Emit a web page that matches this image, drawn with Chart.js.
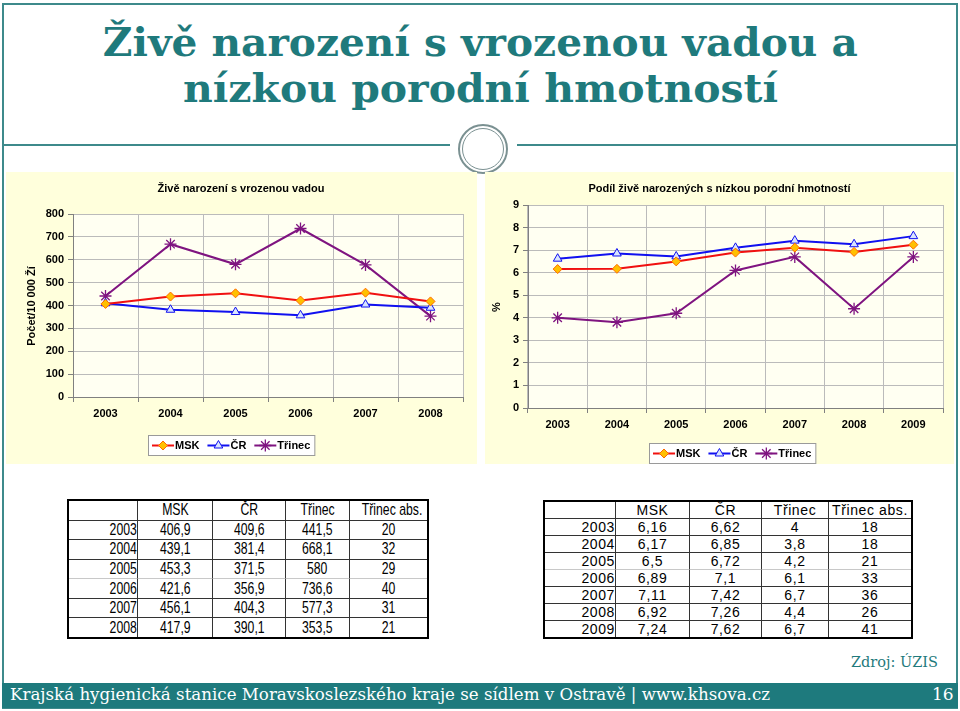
<!DOCTYPE html>
<html><head><meta charset="utf-8">
<script src="https://cdn.jsdelivr.net/npm/chart.js@4.4.1/dist/chart.umd.min.js"></script>
<style>
html,body{margin:0;padding:0;background:#fff;}
body{width:960px;height:711px;position:relative;overflow:hidden;font-family:"Liberation Sans",Arial,sans-serif;}
.frame{position:absolute;left:2px;top:3px;width:956px;height:706px;border:2px solid #3d8a8b;box-sizing:border-box;}
.tline{position:absolute;left:0;width:960px;text-align:center;white-space:nowrap;line-height:1;}
.tline span{display:inline-block;color:#1f7a7c;font-family:"DejaVu Serif",serif;font-weight:bold;font-size:39px;transform-origin:center;}
.rule{position:absolute;top:144px;height:2px;background:#3d8a8b;}
.ring{position:absolute;border-radius:50%;box-sizing:border-box;background:#fff;}
canvas{position:absolute;}
table.tbl{position:absolute;border-collapse:separate;border-spacing:0;border:2px solid #000;table-layout:fixed;box-sizing:border-box;}
table.tbl td{padding:0;margin:0;text-align:center;border-right:1px solid #333;border-bottom:1px solid #333;white-space:nowrap;overflow:visible;color:#000;}
table.tbl td:last-child{border-right:none;}
table.tbl tr:last-child td{border-bottom:none;}
table.tbl td.yr{text-align:right;}
table.tbl tr.light td{border-bottom-color:#c8c8c8;}
#tblVada td{font-family:"Liberation Sans",sans-serif;font-size:17px;line-height:18px;}
#tblVada td span{display:inline-block;transform:scaleX(0.72);transform-origin:center;}
#tblVada td.yr span{transform-origin:right center;}
#tblHmot td{font-family:"Liberation Sans",sans-serif;font-size:14px;letter-spacing:0.6px;}
.footer{position:absolute;left:2px;top:683px;width:956px;height:25px;background:#1e7a7d;}
.ftxt{position:absolute;white-space:nowrap;line-height:1;font-family:"DejaVu Serif",serif;}
.ftxt span{display:inline-block;transform-origin:left center;}
</style>
</head>
<body>
<div class="frame"></div>
<div class="tline" style="top:23px"><span id="t1">Živě narození s vrozenou vadou a</span></div>
<div class="tline" style="top:69px"><span id="t2">nízkou porodní hmotností</span></div>
<div class="rule" style="left:2px;width:448px"></div>
<div class="rule" style="left:517px;width:441px"></div>
<div class="ring" style="left:458px;top:124px;width:50px;height:50px;border:2px solid #7b9192;"></div>
<div class="ring" style="left:462px;top:128px;width:42px;height:42px;border:1.5px solid #7b9192;"></div>

<canvas id="cVada" width="471" height="292" style="left:6px;top:172px;width:471px;height:292px"></canvas>
<canvas id="cHmot" width="469" height="292" style="left:485px;top:172px;width:469px;height:292px"></canvas>

<table class="tbl" id="tblVada" style="left:67px;top:499px;width:358px;height:140px"></table>
<table class="tbl" id="tblHmot" style="left:543px;top:500px;width:366px;height:139px"></table>

<div class="ftxt" style="left:851px;top:655px;font-size:15px;color:#1f7a7c"><span id="zdroj">Zdroj: ÚZIS</span></div>
<div class="footer"></div>
<div class="ftxt" style="left:10px;top:686px;font-size:17px;color:#fff"><span id="foot">Krajská hygienická stanice Moravskoslezského kraje se sídlem v Ostravě | www.khsova.cz</span></div>
<div class="ftxt" style="left:932px;top:686px;font-size:17px;color:#fff"><span id="pg">16</span></div>

<script>
// ---- data ----
const seriesNames = ['MSK', 'ČR', 'Třinec'];
const absHeader = 'Třinec abs.';

const vadaYears = ['2003', '2004', '2005', '2006', '2007', '2008'];
const vadaMSK = [406.9, 439.1, 453.3, 421.6, 456.1, 417.9];
const vadaCR = [409.6, 381.4, 371.5, 356.9, 404.3, 390.1];
const vadaTrinec = [441.5, 668.1, 580, 736.6, 577.3, 353.5];
const vadaTrinecAbs = [20, 32, 29, 40, 31, 21];
const vadaTitle = 'Živě narození s vrozenou vadou';
const vadaAxisTitle = 'Počet/10 000 Ží';
const vadaMax = 800, vadaStep = 100;

const hmotYears = ['2003', '2004', '2005', '2006', '2007', '2008', '2009'];
const hmotMSK = [6.16, 6.17, 6.5, 6.89, 7.11, 6.92, 7.24];
const hmotCR = [6.62, 6.85, 6.72, 7.1, 7.42, 7.26, 7.62];
const hmotTrinec = [4, 3.8, 4.2, 6.1, 6.7, 4.4, 6.7];
const hmotTrinecAbs = [18, 18, 21, 33, 36, 26, 41];
const hmotTitle = 'Podíl živě narozených s nízkou porodní hmotností';
const hmotAxisTitle = '%';
const hmotMax = 9, hmotStep = 1;

// ---- text fitting ----
function fitW(id, w) {
  const el = document.getElementById(id);
  const r = el.getBoundingClientRect().width;
  el.style.transform = 'scaleX(' + (w / r) + ')';
}
fitW('t1', 755); fitW('t2', 595);
fitW('foot', 760); fitW('zdroj', 87);

// ---- charts ----
const FONT = '"Liberation Sans", Arial, sans-serif';
const PANEL = '#FFFFDC', PLOT = '#FFFFF2', GRID = '#BBBBBB', AXIS = '#808080';
const styles = [
  {borderColor: '#F01010', pointStyle: 'rectRot', pointRadius: 4.5, pointBackgroundColor: '#FFC000', pointBorderColor: '#FF6A00', pointBorderWidth: 1},
  {borderColor: '#1010F0', pointStyle: 'triangle', pointRadius: 5, pointBackgroundColor: '#D8E4FF', pointBorderColor: '#1010F0', pointBorderWidth: 1},
  {borderColor: '#7F1480', pointStyle: 'star', pointRadius: 6, pointBackgroundColor: '#7F1480', pointBorderColor: '#7F1480', pointBorderWidth: 1.3}
];

const decor = {
  id: 'decor',
  beforeDraw(chart, args, o) {
    const c = chart.ctx, a = chart.chartArea;
    c.save();
    c.fillStyle = PANEL; c.fillRect(0, 0, chart.width, chart.height);
    c.fillStyle = PLOT; c.fillRect(a.left, a.top, a.right - a.left, a.bottom - a.top);
    c.restore();
  },
  afterDraw(chart, args, o) {
    const c = chart.ctx;
    c.save();
    c.fillStyle = '#000';
    c.textAlign = 'center'; c.textBaseline = 'middle';
    c.font = 'bold 11px ' + FONT;
    c.fillText(o.title, o.tx, o.ty);
    c.save();
    c.translate(o.ax, o.ay); c.rotate(-Math.PI / 2);
    c.font = 'bold 11px ' + FONT;
    c.fillText(o.axisTitle, 0, 0);
    c.restore();
    // legend
    c.font = 'bold 11px ' + FONT;
    const items = chart.data.datasets.map(d => ({d, w: c.measureText(d.label).width}));
    const lineL = 22, pad = 4, gap = 8;
    let total = pad * 2;
    items.forEach((it, i) => { total += lineL + 1 + it.w + (i < items.length - 1 ? gap : 0); });
    let x = Math.round(o.lx - total / 2), h = 20, y = o.ly;
    c.fillStyle = '#FFFFFF'; c.fillRect(x + 0.5, y - h / 2 + 0.5, total, h);
    c.strokeStyle = '#9A9A9A'; c.lineWidth = 1; c.strokeRect(x + 0.5, y - h / 2 + 0.5, total, h);
    x += pad;
    items.forEach((it, i) => {
      const d = it.d;
      c.strokeStyle = d.borderColor; c.lineWidth = 2;
      c.beginPath(); c.moveTo(x, y + 0.5); c.lineTo(x + lineL, y + 0.5); c.stroke();
      c.fillStyle = d.pointBackgroundColor; c.strokeStyle = d.pointBorderColor; c.lineWidth = d.pointBorderWidth;
      Chart.helpers.drawPoint(c, {pointStyle: d.pointStyle, radius: d.pointRadius, rotation: 0, borderWidth: d.pointBorderWidth}, x + lineL / 2, y + 0.5);
      c.fillStyle = '#000'; c.textAlign = 'left';
      c.fillText(d.label, x + lineL + 1, y + 1);
      x += lineL + 1 + it.w + gap;
    });
    c.restore();
  }
};

function buildChart(id, labels, values, yMax, yStep, g, title, axisTitle) {
  const tickFont = {family: FONT, size: 11, weight: 'bold'};
  return new Chart(document.getElementById(id), {
    type: 'line',
    data: {
      labels,
      datasets: values.map((v, i) => Object.assign({label: seriesNames[i], data: v, borderWidth: 2, tension: 0, fill: false}, styles[i]))
    },
    options: {
      responsive: false, animation: false, devicePixelRatio: 1,
      layout: {padding: {left: 0, right: g.pr, top: g.pt, bottom: 0}, autoPadding: false},
      plugins: {
        legend: {display: false}, title: {display: false}, tooltip: {enabled: false},
        decor: {title, axisTitle, tx: g.tx, ty: g.ty, ax: g.ax, ay: g.ay, lx: g.lx, ly: g.ly}
      },
      scales: {
        x: {
          offset: true,
          grid: {offset: true, color: GRID, lineWidth: 1, tickLength: 5, tickColor: AXIS},
          border: {color: AXIS, width: 1},
          ticks: {font: tickFont, color: '#000', padding: 5, maxRotation: 0, autoSkip: false},
          afterFit: s => { s.height = g.xh; }
        },
        y: {
          min: 0, max: yMax,
          grid: {color: GRID, lineWidth: 1, tickLength: 5, tickColor: AXIS},
          border: {color: AXIS, width: 1},
          ticks: {stepSize: yStep, font: tickFont, color: '#000', padding: 4},
          afterFit: s => { s.width = g.yw; }
        }
      }
    },
    plugins: [decor]
  });
}

buildChart('cVada', vadaYears, [vadaMSK, vadaCR, vadaTrinec], vadaMax, vadaStep,
  {pr: 14, pt: 42, xh: 67, yw: 67, tx: 235, ty: 17, ax: 26, ay: 134, lx: 225.5, ly: 273},
  vadaTitle, vadaAxisTitle);
buildChart('cHmot', hmotYears, [hmotMSK, hmotCR, hmotTrinec], hmotMax, hmotStep,
  {pr: 11, pt: 33, xh: 56, yw: 43, tx: 234.5, ty: 17, ax: 12, ay: 135, lx: 247, ly: 281},
  hmotTitle, hmotAxisTitle);

// ---- tables ----
const fmt = v => String(v).replace('.', ',');
function buildTable(id, years, cols, colW, lightAfter) {
  const t = document.getElementById(id);
  const cell = (txt, cls) => '<td' + (cls ? ' class="' + cls + '"' : '') + '><span>' + txt + '</span></td>';
  let html = '<colgroup>' + colW.map(w => '<col style="width:' + w + 'px">').join('') + '</colgroup>';
  html += '<tr>' + cell('') + seriesNames.concat([absHeader]).map(n => cell(n)).join('') + '</tr>';
  years.forEach((y, i) => {
    html += '<tr' + (y === lightAfter ? ' class="light"' : '') + '>' + cell(y, 'yr') +
      cols.map(c => cell(fmt(c[i]))).join('') + '</tr>';
  });
  t.innerHTML = html;
}
buildTable('tblVada', vadaYears, [vadaMSK, vadaCR, vadaTrinec, vadaTrinecAbs], [69, 75, 73, 64, 77], '2005');
buildTable('tblHmot', hmotYears, [hmotMSK, hmotCR, hmotTrinec, hmotTrinecAbs], [71, 74, 72, 67, 82], '2005');
</script>
</body></html>
